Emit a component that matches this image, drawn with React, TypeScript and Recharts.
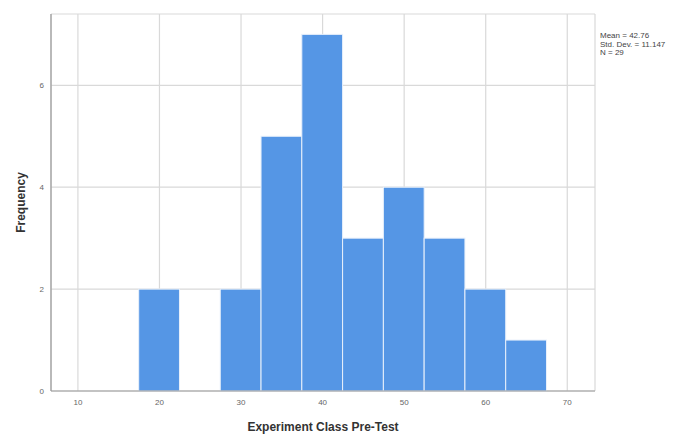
import { Bar, BarChart, CartesianGrid, XAxis, YAxis } from "recharts";

// histogram bins (centre of each 5-point bin) and their counts
const binCenters = [20, 30, 35, 40, 45, 50, 55, 60, 65];
const frequencies = [2, 2, 5, 7, 3, 4, 3, 2, 1];

const xTicks = [10, 20, 30, 40, 50, 60, 70];
const yTicks = [0, 2, 4, 6];

const statLines = ["Mean = 42.76", "Std. Dev. = 11.147", "N = 29"];

const data = binCenters.map((c, i) => ({ center: c, count: frequencies[i] }));

const BAR_COLOR = "#5596e5";
const FONT = "'Liberation Sans', Arial, sans-serif";
const X_DOMAIN: [number, number] = [6.7, 73.4];
const PLOT_W = 687 - 92 - 51;
const BIN_PX = (5 * PLOT_W) / (X_DOMAIN[1] - X_DOMAIN[0]);

// full-width bin rectangle, centred on the slot recharts gives us
function BinShape(props: any) {
  const { x, y, width, height } = props;
  if (!height) return null;
  const cx = x + width / 2;
  return (
    <rect
      x={cx - BIN_PX / 2}
      y={y}
      width={BIN_PX}
      height={height}
      fill={BAR_COLOR}
      stroke="#e8f0fb"
      strokeWidth={1}
    />
  );
}

export default function App() {
  return (
    <div style={{ position: "absolute", left: 0, top: 0, width: 687, height: 435, fontFamily: FONT }}>
      <BarChart
        width={687}
        height={435}
        data={data}
        margin={{ top: 14, right: 92, bottom: 0, left: 21 }}
        barCategoryGap={0}
      >
        <CartesianGrid stroke="#d9d9d9" strokeWidth={1.2} />
        <XAxis
          type="number"
          dataKey="center"
          domain={X_DOMAIN}
          ticks={xTicks}
          height={44}
          axisLine={{ stroke: "#999", strokeWidth: 1.2 }}
          tickLine={false}
          tickSize={0}
          tickMargin={8}
          tick={{ fontSize: 8, fill: "#666", fontFamily: FONT }}
          label={{
            value: "Experiment Class Pre-Test",
            position: "insideBottom",
            offset: 4,
            fontSize: 12,
            fontWeight: "bold",
            fill: "#333",
            fontFamily: FONT,
          }}
        />
        <YAxis
          type="number"
          domain={[0, 7.4]}
          ticks={yTicks}
          width={30}
          axisLine={{ stroke: "#999", strokeWidth: 1.2 }}
          tickLine={false}
          tickSize={0}
          tickMargin={7}
          tick={{ fontSize: 8, fill: "#666", fontFamily: FONT }}
          label={{
            content: (props: any) => {
              const vb = props.viewBox;
              const cy = vb.y + vb.height / 2;
              return (
                <text
                  x={21}
                  y={cy}
                  transform={`rotate(-90, 21, ${cy})`}
                  textAnchor="middle"
                  dominantBaseline="central"
                  fontSize={12}
                  fontWeight="bold"
                  fill="#333"
                  fontFamily={FONT}
                >
                  Frequency
                </text>
              );
            },
          }}
        />
        <Bar
          dataKey="count"
          fill={BAR_COLOR}
          barSize={20}
          shape={<BinShape />}
          isAnimationActive={false}
        />
      </BarChart>
      <div
        style={{
          position: "absolute",
          left: 600,
          top: 32,
          fontSize: 8,
          lineHeight: "8.7px",
          color: "#444",
          whiteSpace: "nowrap",
        }}
      >
        {statLines.map((s) => (
          <div key={s}>{s}</div>
        ))}
      </div>
    </div>
  );
}
